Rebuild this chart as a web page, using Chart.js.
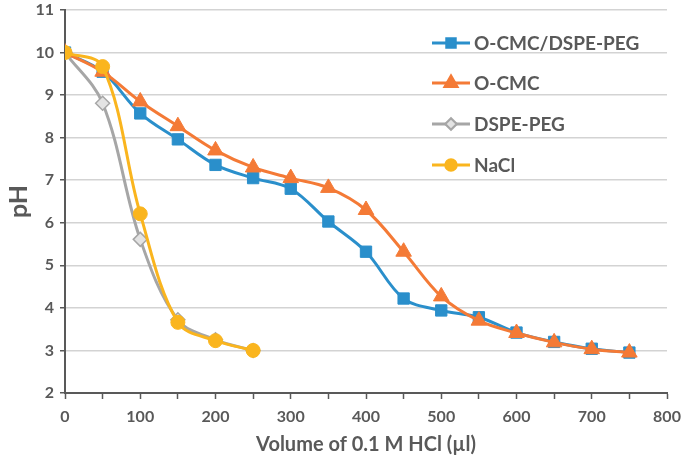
<!DOCTYPE html>
<html>
<head>
<meta charset="utf-8">
<script src="https://cdn.jsdelivr.net/npm/chart.js@4/dist/chart.umd.min.js"></script>
<style>
  html, body { margin: 0; padding: 0; background: #fff; }
  #wrap { width: 683px; height: 461px; }
</style>
</head>
<body>
<div id="wrap"><canvas id="myChart" width="683" height="461"></canvas></div>
<script>
/* data */
const volume = [0, 50, 100, 150, 200, 250, 300, 350, 400, 450, 500, 550, 600, 650, 700, 750];
const ocmcDspe = [10.0, 9.55, 8.57, 7.96, 7.36, 7.05, 6.8, 6.03, 5.32, 4.22, 3.94, 3.78, 3.42, 3.2, 3.04, 2.95];
const ocmc = [10.0, 9.55, 8.85, 8.27, 7.7, 7.3, 7.05, 6.82, 6.3, 5.32, 4.27, 3.7, 3.41, 3.19, 3.03, 2.95];
const dspePeg = [10.0, 8.81, 5.61, 3.72, 3.25, 3.0];
const nacl = [10.0, 9.67, 6.21, 3.66, 3.23, 3.0];
const seriesNames = ['O-CMC/DSPE-PEG', 'O-CMC', 'DSPE-PEG', 'NaCl'];

const textColor = '#595959';
const font = 'Lato';

function points(values) {
    return values.map(function(v, i) { return { x: volume[i], y: v }; });
}

/* legend drawn inside the plot, like the original */
const legendPlugin = {
    id: 'insideLegend',
    afterDatasetsDraw(chart) {
        const ctx = chart.ctx;
        const x0 = 432, x1 = 470;
        const ys = [43, 83, 124, 165];
        chart.data.datasets.forEach(function(ds, i) {
            const y = ys[i];
            ctx.save();
            ctx.strokeStyle = ds.borderColor;
            ctx.lineWidth = 3;
            ctx.beginPath();
            ctx.moveTo(x0, y);
            ctx.lineTo(x1, y);
            ctx.stroke();
            Chart.helpers.drawPoint(ctx, {
                pointStyle: ds.pointStyle,
                radius: ds.pointRadius * 0.75,
                borderWidth: ds.pointBorderWidth,
                rotation: 0
            }, (x0 + x1) / 2, y);
            ctx.fillStyle = ds.pointBackgroundColor;
            ctx.strokeStyle = ds.pointBorderColor;
            ctx.lineWidth = ds.pointBorderWidth;
            ctx.fill();
            ctx.stroke();
            ctx.fillStyle = textColor;
            ctx.font = 'bold 19px ' + font;
            ctx.textBaseline = 'middle';
            ctx.textAlign = 'left';
            ctx.fillText(ds.label, x1 + 4, y + 1);
            ctx.restore();
        });
    }
};

const ctx = document.getElementById('myChart');
const myChart = new Chart(ctx, {
    type: 'line',
    data: {
        datasets: [
            {
                label: seriesNames[0],
                data: points(ocmcDspe),
                borderColor: '#2A8FCB',
                backgroundColor: '#2A8FCB',
                pointBackgroundColor: '#2A8FCB',
                pointBorderColor: '#2A8FCB',
                pointBorderWidth: 1,
                pointStyle: 'rect',
                pointRadius: 8,
                borderWidth: 3,
                order: 4
            },
            {
                label: seriesNames[1],
                data: points(ocmc),
                borderColor: '#F47A36',
                backgroundColor: '#F47A36',
                pointBackgroundColor: '#F47A36',
                pointBorderColor: '#F47A36',
                pointBorderWidth: 1,
                pointStyle: 'triangle',
                pointRadius: 9,
                borderWidth: 3,
                order: 3
            },
            {
                label: seriesNames[2],
                data: points(dspePeg),
                borderColor: '#A6A6A6',
                backgroundColor: '#E3E3E3',
                pointBackgroundColor: '#E3E3E3',
                pointBorderColor: '#A6A6A6',
                pointBorderWidth: 1.5,
                pointStyle: 'rectRot',
                pointRadius: 7,
                borderWidth: 3,
                order: 2
            },
            {
                label: seriesNames[3],
                data: points(nacl),
                borderColor: '#FAB51E',
                backgroundColor: '#FAB51E',
                pointBackgroundColor: '#FAB51E',
                pointBorderColor: '#FAB51E',
                pointBorderWidth: 1,
                pointStyle: 'circle',
                pointRadius: 7,
                borderWidth: 3,
                order: 1
            }
        ]
    },
    options: {
        responsive: false,
        animation: false,
        tension: 0.35,
        layout: { padding: { top: 10, right: 16, left: 0, bottom: 0 } },
        plugins: {
            legend: { display: false },
            tooltip: { enabled: false }
        },
        scales: {
            x: {
                type: 'linear',
                min: 0,
                max: 800,
                afterFit: function(scale) {
                    scale.height = 68;
                    scale.paddingLeft = 0;
                    scale.paddingRight = 0;
                },
                ticks: {
                    stepSize: 50,
                    autoSkip: false,
                    maxRotation: 0,
                    color: textColor,
                    font: { family: font, size: 16, weight: 'bold' },
                    padding: 8,
                    callback: function(v) { return v % 100 === 0 ? v : ''; }
                },
                grid: { drawOnChartArea: false, tickLength: 6, tickColor: textColor, tickWidth: 1.5 },
                border: { color: textColor, width: 2 },
                title: {
                    display: true,
                    text: 'Volume of 0.1 M HCl (µl)',
                    color: textColor,
                    font: { family: font, size: 20, weight: 'bold' },
                    padding: { top: 1 }
                }
            },
            y: {
                min: 2,
                max: 11,
                afterFit: function(scale) {
                    scale.width = 65;
                    scale.paddingTop = 0;
                    scale.paddingBottom = 0;
                },
                ticks: {
                    stepSize: 1,
                    color: textColor,
                    font: { family: font, size: 16, weight: 'bold' },
                    padding: 6
                },
                grid: {
                    color: '#D3D3D3',
                    lineWidth: 1.5,
                    borderDash: [7, 6],
                    tickLength: 5,
                    tickColor: textColor,
                    tickBorderDash: []
                },
                border: { color: textColor, width: 2 },
                title: {
                    display: true,
                    text: 'pH',
                    color: textColor,
                    font: { family: font, size: 25, weight: 'bold' },
                    padding: { bottom: 0 }
                }
            }
        }
    },
    plugins: [legendPlugin]
});
</script>
</body>
</html>
